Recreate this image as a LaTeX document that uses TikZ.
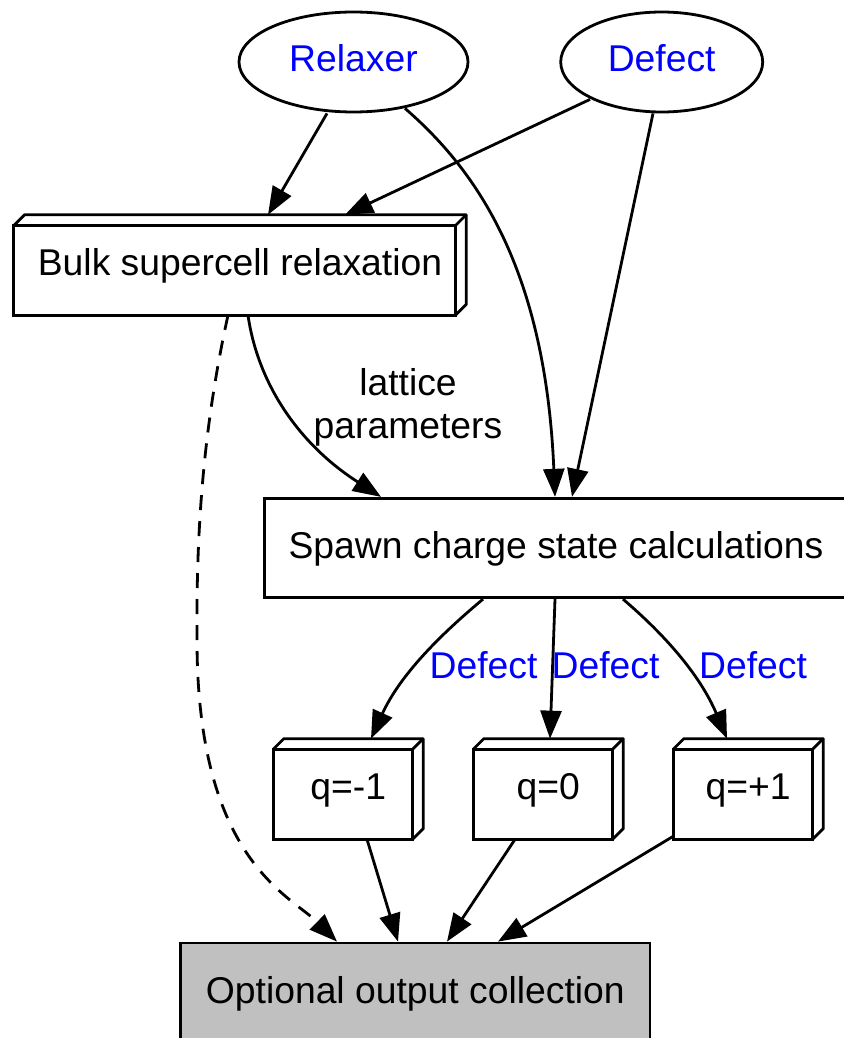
\documentclass[tikz,border=0pt]{standalone}
\usepackage{fontspec}
\setmainfont{Liberation Sans}
\usetikzlibrary{shapes.geometric,arrows.meta,calc}
\definecolor{graybox}{HTML}{C0C0C0}
\tikzset{
  every node/.style={font=\fontsize{37.3}{43}\selectfont, inner sep=0pt},
  txt/.style={text height=28pt, text depth=8pt},
  ell/.style={ellipse, draw, line width=2.8pt, text=blue, txt},
  rbox/.style={rectangle, draw, line width=2.8pt, txt},
  bthree/.style={rectangle, txt},
  conn/.style={line width=2.8pt, -{Triangle[length=28pt,width=21pt]}},
  lbl/.style={text=blue, txt},
}
\newcommand{\boxthreed}[1]{%
  \draw[line width=2.8pt] (#1.south west) rectangle ([xshift=-10.7pt,yshift=-10.7pt]#1.north east);
  \draw[line width=2.8pt, line join=round] ([yshift=-10.7pt]#1.north west) -- ([xshift=10.7pt]#1.north west) -- (#1.north east) -- ([yshift=10.7pt]#1.south east) -- ([xshift=-10.7pt]#1.south east);
  \draw[line width=2.8pt] ([xshift=-10.7pt,yshift=-10.7pt]#1.north east) -- (#1.north east);
}
\begin{document}
\begin{tikzpicture}[x=1pt,y=-1pt]
\useasboundingbox (0,0) rectangle (843,1038);
% nodes
\node[ell, minimum width=229pt, minimum height=100pt] (relaxer) at (353.5,62) {Relaxer};
\node[ell, minimum width=202pt, minimum height=100pt] (defectin) at (661.7,62) {Defect};
\node[bthree, minimum width=452pt, minimum height=100pt] (bulk) at (240,265) {Bulk supercell relaxation};
\node[rbox, minimum width=583pt, minimum height=99.5pt] (spawn) at (556,548) {Spawn charge state calculations};
\node[bthree, minimum width=149.7pt, minimum height=100.3pt] (qm1) at (348.2,789) {q=-1};
\node[bthree, minimum width=149.7pt, minimum height=100.3pt] (q0) at (548.2,789) {q=0};
\node[bthree, minimum width=149.7pt, minimum height=100.3pt] (qp1) at (748.2,789) {q=+1};
\node[rbox, fill=graybox, minimum width=469.3pt, minimum height=100pt] (out) at (415.3,993) {Optional output collection};
\boxthreed{bulk}
\boxthreed{qm1}
\boxthreed{q0}
\boxthreed{qp1}
% connectors
\draw[conn] (relaxer.south -| 327,0) -- (bulk.north -| 268,0);
\draw[conn] ([yshift=14pt]defectin.south -| 590,0) -- (bulk.north -| 345,0);
\draw[conn] ([yshift=5pt]relaxer.south -| 405,0) .. controls (470,165) and (545,260) .. (spawn.north -| 555,0);
\draw[conn] (defectin.south -| 653,0) -- (spawn.north -| 572,0);
\draw[conn] (bulk.south -| 248,0) .. controls (258,385) and (300,445) .. (spawn.north -| 381,0);
\node[align=center] (latlbl) at (408,407) {lattice\\parameters};
\draw[conn, dash pattern=on 15pt off 11pt] (bulk.south -| 228,0) .. controls (205,420) and (196,520) .. (197,640)
  .. controls (197,860) and (290,895) .. (out.north -| 337,0);
\draw[conn] (spawn.south -| 483,0) .. controls (440,635) and (400,675) .. (qm1.north -| 371,0);
\draw[conn] (spawn.south -| 555,0) -- (q0.north -| 550,0);
\draw[conn] (spawn.south -| 623,0) .. controls (665,635) and (700,675) .. (qp1.north -| 727,0);
\node[lbl] (l1) at (483.5,668) {Defect};
\node[lbl] (l2) at (605.6,668) {Defect};
\node[lbl] (l3) at (753,668) {Defect};
\draw[conn] (qm1.south -| 367,0) -- (out.north -| 398,0);
\draw[conn] (q0.south -| 515,0) -- (out.north -| 447,0);
\draw[conn] ([yshift=3pt]qp1.south west) -- (out.north -| 498,0);
\end{tikzpicture}
\end{document}
